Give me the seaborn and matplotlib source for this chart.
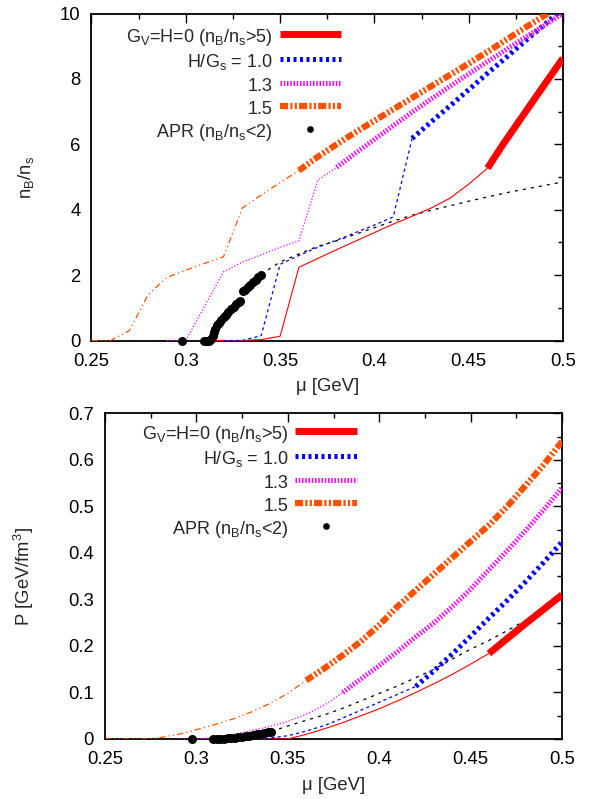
import matplotlib
matplotlib.use("Agg")
import matplotlib.pyplot as plt
import seaborn as sns
from matplotlib.ticker import MultipleLocator, FuncFormatter
from matplotlib.lines import Line2D

# ---------------- data: top panel (n_B/n_s vs mu) ----------------
red_thin_mu = [0.31, 0.32, 0.33, 0.34, 0.35, 0.36, 0.38, 0.40, 0.41, 0.42, 0.43, 0.44, 0.45, 0.46]
red_thin_n = [0, 0, 0, 0.03, 0.13, 2.24, 2.78, 3.30, 3.56, 3.80, 4.05, 4.35, 4.78, 5.27]
red_thick_mu = [0.46, 0.468, 0.48, 0.49, 0.50]
red_thick_n = [5.27, 5.98, 6.98, 7.81, 8.63]

blue_thin_mu = [0.32, 0.33, 0.34, 0.35, 0.36, 0.37, 0.38, 0.39, 0.40, 0.41, 0.42]
blue_thin_n = [0, 0, 0.15, 2.33, 2.60, 2.85, 3.07, 3.30, 3.53, 3.78, 6.18]
blue_thick_mu = [0.42, 0.43, 0.44, 0.45, 0.46, 0.47, 0.48, 0.49, 0.50]
blue_thick_n = [6.18, 6.68, 7.17, 7.67, 8.17, 8.66, 9.16, 9.65, 10.15]

pink_thin_mu = [0.29, 0.30, 0.31, 0.32, 0.33, 0.34, 0.35, 0.36, 0.37, 0.38]
pink_thin_n = [0, 0, 1.05, 2.10, 2.40, 2.62, 2.85, 3.05, 4.90, 5.30]
pink_thick_mu = [0.38, 0.39, 0.40, 0.41, 0.42, 0.43, 0.44, 0.45, 0.46, 0.47, 0.48, 0.49, 0.50]
pink_thick_n = [5.30, 5.73, 6.15, 6.57, 6.98, 7.38, 7.77, 8.15, 8.53, 8.90, 9.27, 9.63, 10.0]

orange_thin_mu = [0.25, 0.26, 0.27, 0.28, 0.29, 0.30, 0.31, 0.32, 0.33, 0.34, 0.35, 0.36]
orange_thin_n = [0, 0, 0.30, 1.40, 1.93, 2.15, 2.36, 2.56, 4.05, 4.45, 4.83, 5.20]
orange_thick_mu = [0.36, 0.37, 0.38, 0.39, 0.40, 0.41, 0.42, 0.43, 0.44, 0.45, 0.46, 0.47, 0.48, 0.49, 0.50]
orange_thick_n = [5.20, 5.62, 6.00, 6.37, 6.72, 7.07, 7.42, 7.77, 8.12, 8.47, 8.83, 9.20, 9.57, 9.93, 10.3]

black_mu = [0.34, 0.35, 0.36, 0.37, 0.38, 0.39, 0.40, 0.41, 0.42, 0.43, 0.44, 0.45, 0.46, 0.47, 0.48, 0.49, 0.50]
black_n = [2.03, 2.40, 2.65, 2.88, 3.05, 3.25, 3.45, 3.65, 3.83, 3.98, 4.12, 4.26, 4.39, 4.52, 4.63, 4.74, 4.85]

apr_mu = [0.2978, 0.3095, 0.3105, 0.3115, 0.3125, 0.3135, 0.3142, 0.3148, 0.3155, 0.3165, 0.3175,
          0.3187, 0.3200, 0.3213, 0.3226, 0.3240, 0.3254, 0.3268, 0.3282, 0.3290,
          0.3303, 0.3315, 0.3328, 0.3342, 0.3356, 0.3370, 0.3384, 0.3398]
apr_n = [0, 0, 0, 0, 0, 0.05, 0.15, 0.26, 0.36, 0.46, 0.55,
         0.63, 0.71, 0.79, 0.87, 0.95, 1.03, 1.11, 1.18, 1.22,
         1.50, 1.56, 1.63, 1.71, 1.79, 1.86, 1.93, 2.00]

# ---------------- data: bottom panel (P vs mu) ----------------
p_red_thin_mu = [0.30, 0.35, 0.36, 0.37, 0.38, 0.39, 0.40, 0.41, 0.42, 0.43, 0.44, 0.45, 0.46]
p_red_thin = [0, 0, 0.010, 0.022, 0.035, 0.050, 0.065, 0.082, 0.100, 0.119, 0.139, 0.161, 0.184]
p_red_thick_mu = [0.46, 0.47, 0.48, 0.49, 0.50]
p_red_thick = [0.184, 0.216, 0.248, 0.279, 0.310]

p_blue_thin_mu = [0.30, 0.33, 0.34, 0.35, 0.36, 0.37, 0.38, 0.39, 0.40, 0.41, 0.42]
p_blue_thin = [0, 0, 0.002, 0.007, 0.017, 0.029, 0.045, 0.062, 0.079, 0.096, 0.113]
p_blue_thick_mu = [0.42, 0.43, 0.44, 0.45, 0.46, 0.47, 0.48, 0.49, 0.50]
p_blue_thick = [0.113, 0.147, 0.183, 0.221, 0.260, 0.298, 0.338, 0.380, 0.424]

p_pink_thin_mu = [0.29, 0.30, 0.31, 0.32, 0.33, 0.34, 0.35, 0.36, 0.37, 0.38]
p_pink_thin = [0, 0, 0.003, 0.010, 0.018, 0.027, 0.038, 0.053, 0.073, 0.100]
p_pink_thick_mu = [0.38, 0.39, 0.40, 0.41, 0.42, 0.43, 0.44, 0.45, 0.46, 0.47, 0.48, 0.49, 0.50]
p_pink_thick = [0.100, 0.129, 0.158, 0.188, 0.220, 0.250, 0.285, 0.322, 0.364, 0.405, 0.448, 0.493, 0.540]

p_orange_thin_mu = [0.25, 0.275, 0.28, 0.29, 0.30, 0.31, 0.32, 0.33, 0.34, 0.35, 0.36]
p_orange_thin = [0, 0, 0.003, 0.010, 0.020, 0.031, 0.043, 0.058, 0.076, 0.098, 0.126]
p_orange_thick_mu = [0.36, 0.37, 0.38, 0.39, 0.40, 0.41, 0.42, 0.43, 0.44, 0.45, 0.46, 0.47, 0.48, 0.49, 0.50]
p_orange_thick = [0.126, 0.152, 0.180, 0.210, 0.245, 0.285, 0.320, 0.355, 0.390, 0.425, 0.460, 0.500, 0.545, 0.590, 0.640]

p_black_mu = [0.341, 0.35, 0.36, 0.37, 0.38, 0.39, 0.40, 0.41, 0.42, 0.43, 0.44, 0.45, 0.46, 0.47, 0.48, 0.49, 0.50]
p_black = [0.016, 0.028, 0.040, 0.052, 0.066, 0.082, 0.098, 0.114, 0.132, 0.150, 0.172, 0.193, 0.212, 0.233, 0.255, 0.278, 0.302]

p_apr_mu = [0.2978, 0.309, 0.311, 0.313, 0.315, 0.317, 0.319, 0.321, 0.323, 0.325, 0.327,
            0.329, 0.331, 0.333, 0.335, 0.337, 0.339, 0.341]
p_apr = [0, 0, 0, 0.0005, 0.001, 0.0015, 0.002, 0.003, 0.0038, 0.0048, 0.006,
         0.007, 0.0083, 0.0097, 0.011, 0.0125, 0.014, 0.0158]

labels = [r"G$_V$=H=0 (n$_B$/n$_s$>5)", r"H/G$_s$ = 1.0", "1.3", "1.5", r"APR (n$_B$/n$_s$<2)"]
RED, BLUE, PINK, ORANGE = "#FF0000", "#0000FF", "#FF00FF", "#FF5000"

sns.set_theme(style="white")
plt.rcParams.update({
    "font.family": ["Liberation Sans", "DejaVu Sans"],
    "mathtext.default": "regular",
    "font.size": 13,
    "axes.linewidth": 1.3,
    "axes.edgecolor": "black",
})

FS_TICK = 13.3
FS_LEG = 13.0


def draw(ax, x, y, color, lw, dashes=None, z=2):
    sns.lineplot(x=x, y=y, ax=ax, color=color, linewidth=lw, sort=False,
                 estimator=None, legend=False)
    line = ax.lines[-1]
    if dashes is not None:
        line.set_dashes(dashes)
    line.set_solid_capstyle("butt")
    line.set_dash_capstyle("butt")
    line.set_zorder(z)
    return line


def panel(ax, d, ylim, ymaj, ymin, ylabel, ylab_x, legend_anchor):
    (rtm, rt, rkm, rk, btm, bt, bkm, bk, ptm, pt, pkm, pk,
     otm, ot, okm, ok, km, kv, am, av) = d
    draw(ax, km, kv, "black", 0.9, dashes=(2.5, 4), z=2)
    draw(ax, rtm, rt, RED, 0.8, z=3)
    h_red = draw(ax, rkm, rk, RED, 5.0, z=3)
    draw(ax, btm, bt, BLUE, 0.9, dashes=(2.5, 2.5), z=3)
    h_blue = draw(ax, bkm, bk, BLUE, 3.6, dashes=(0.6, 0.7), z=3)
    draw(ax, ptm, pt, PINK, 0.9, dashes=(1.0, 1.5), z=3)
    h_pink = draw(ax, pkm, pk, PINK, 3.6, dashes=(0.3, 0.35), z=3)
    draw(ax, otm, ot, ORANGE, 0.9, dashes=(5, 2.5, 1, 2.5, 1, 2.5), z=4)
    h_or = draw(ax, okm, ok, ORANGE, 4.5, dashes=(1.3, 0.35, 0.35, 0.35, 0.35, 0.35), z=4)
    sns.scatterplot(x=am, y=av, ax=ax, color="black", s=42, linewidth=0,
                    clip_on=False, zorder=5, legend=False)
    h_apr = Line2D([], [], marker="o", color="black", linestyle="none", markersize=3.8)

    ax.set_xlim(0.25, 0.5)
    ax.set_ylim(*ylim)
    ax.xaxis.set_major_locator(MultipleLocator(0.05))
    ax.xaxis.set_minor_locator(MultipleLocator(0.025))
    ax.yaxis.set_major_locator(MultipleLocator(ymaj))
    ax.yaxis.set_minor_locator(MultipleLocator(ymin))
    fmt = FuncFormatter(lambda v, p: "%g" % round(v, 6))
    ax.xaxis.set_major_formatter(fmt)
    ax.yaxis.set_major_formatter(fmt)
    ax.tick_params(which="both", direction="in", top=True, right=True,
                   labelsize=FS_TICK, colors="black", width=1.0)
    ax.tick_params(which="major", length=6.5)
    ax.tick_params(which="minor", length=3.5)
    ax.tick_params(axis="x", which="major", pad=9)
    ax.tick_params(axis="y", which="major", pad=8)
    ax.set_xlabel("μ [GeV]", fontsize=FS_TICK, labelpad=6)
    ax.set_ylabel(ylabel, fontsize=FS_TICK)
    ax.yaxis.set_label_coords(ylab_x, 0.5)
    for s in ax.spines.values():
        s.set_visible(True)
        s.set_color("black")

    ax.legend([h_red, h_blue, h_pink, h_or, h_apr], labels,
              loc="upper right", bbox_to_anchor=legend_anchor,
              frameon=False, markerfirst=False, handlelength=3.4,
              handletextpad=0.38, labelspacing=0.17, handleheight=1.3,
              borderpad=0, borderaxespad=0, fontsize=FS_LEG)


fig = plt.figure(figsize=(5.93, 7.99), dpi=100)
ax1 = fig.add_axes([0.1543, 0.5738, 0.795, 0.4093])
ax2 = fig.add_axes([0.1771, 0.0751, 0.7707, 0.4074])

panel(ax1, (red_thin_mu, red_thin_n, red_thick_mu, red_thick_n,
            blue_thin_mu, blue_thin_n, blue_thick_mu, blue_thick_n,
            pink_thin_mu, pink_thin_n, pink_thick_mu, pink_thick_n,
            orange_thin_mu, orange_thin_n, orange_thick_mu, orange_thick_n,
            black_mu, black_n, apr_mu, apr_n),
      (0, 10), 2, 1, r"n$_B$/n$_s$", -0.118, (0.529, 0.962))

panel(ax2, (p_red_thin_mu, p_red_thin, p_red_thick_mu, p_red_thick,
            p_blue_thin_mu, p_blue_thin, p_blue_thick_mu, p_blue_thick,
            p_pink_thin_mu, p_pink_thin, p_pink_thick_mu, p_pink_thick,
            p_orange_thin_mu, p_orange_thin, p_orange_thick_mu, p_orange_thick,
            p_black_mu, p_black, p_apr_mu, p_apr),
      (0, 0.7), 0.1, 0.05, r"P [GeV/fm$^3$]", -0.15, (0.551, 0.97))

fig.savefig("out.png", dpi=100, facecolor="white")
